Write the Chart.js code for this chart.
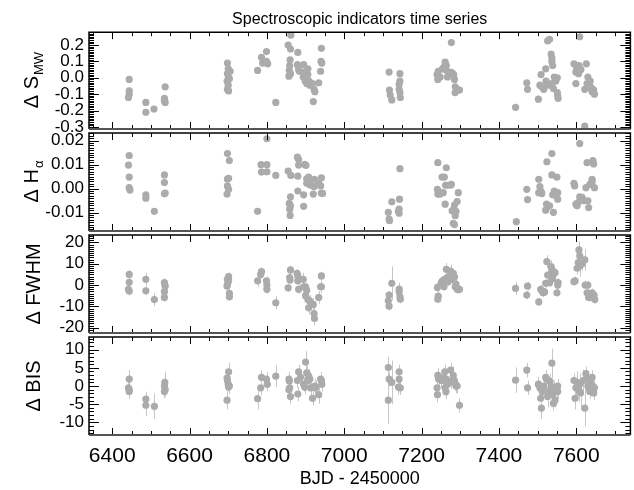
<!DOCTYPE html>
<html>
<head>
<meta charset="utf-8">
<script src="https://cdn.jsdelivr.net/npm/chart.js@4/dist/chart.umd.min.js"></script>
<style>
  body { margin: 0; background: #fff; }
  #wrap { position: relative; width: 634px; height: 490px; }
  #wrap canvas { position: absolute; left: 0; top: 0; }
</style>
</head>
<body>
<div id="wrap">
  <canvas id="pSmw" width="634" height="490"></canvas>
  <canvas id="pHa" width="634" height="490"></canvas>
  <canvas id="pFwhm" width="634" height="490"></canvas>
  <canvas id="pBis" width="634" height="490"></canvas>
</div>
<script>
// ---- data (BJD - 2450000, deltas) ----
const xTicks = [6400, 6600, 6800, 7000, 7200, 7400, 7600];

const smwTicks = [-0.3, -0.2, -0.1, 0.0, 0.1, 0.2];
const smwT = [6444, 6444, 6444, 6442, 6487, 6487, 6508, 6537, 6535, 6535, 6537,
  6698, 6700, 6698, 6701, 6697, 6700, 6698, 6701, 6705, 6703,
  6776, 6786, 6789, 6799, 6799, 6802, 6823,
  6855, 6862, 6861, 6860, 6859, 6858, 6857, 6861,
  6880, 6879, 6882, 6884,
  6895, 6897, 6894, 6899, 6903, 6906, 6906, 6901, 6909, 6911,
  6922, 6924, 6920, 6918, 6934, 6941, 6940, 6942, 6939,
  7116, 7117, 7119, 7123, 7142, 7144, 7144, 7142, 7144, 7145,
  7240, 7242, 7243, 7248, 7254, 7258, 7261, 7264, 7262, 7267, 7269, 7275, 7277, 7279, 7283, 7285, 7287, 7287, 7292, 7298,
  7443, 7472, 7474, 7502, 7506, 7509, 7511, 7516,
  7521, 7522, 7526, 7528, 7531, 7535, 7537, 7537, 7539, 7537, 7541, 7543, 7547, 7551, 7552, 7553, 7551,
  7594, 7599, 7599, 7601, 7603, 7606, 7609, 7607, 7612, 7622, 7622, 7626, 7628, 7630, 7632, 7634, 7636, 7638, 7641, 7643, 7645, 7647];
const smwV = [-0.01, -0.08, -0.10, -0.12, -0.15, -0.21, -0.19, -0.055, -0.125, -0.14, -0.15,
  0.09, 0.055, 0.025, 0.0, -0.02, -0.045, -0.07, -0.08, 0.04, -0.005,
  0.045, 0.125, 0.09, 0.10, 0.16, 0.085, -0.15,
  0.20, 0.26, 0.175, 0.11, 0.075, 0.045, 0.01, 0.025,
  0.155, 0.08, 0.05, 0.04,
  0.08, 0.035, 0.005, -0.02, -0.035, 0.055, 0.02, 0.005, -0.02, -0.045,
  -0.07, -0.085, -0.145, -0.035, -0.03, 0.18, 0.10, 0.09, 0.04,
  0.035, -0.075, -0.105, -0.135, -0.04, 0.025, -0.02, -0.07, -0.09, -0.12,
  0.02, -0.01, 0.04, 0.005, 0.055, 0.065, 0.095, 0.075, 0.05, 0.005, 0.025, 0.035, 0.215, 0.03, 0.02, -0.01, -0.055, -0.09, -0.07, -0.075,
  -0.18, -0.03, -0.07, -0.13, -0.045, 0.02, -0.055, -0.07,
  0.055, -0.02, 0.225, -0.045, 0.235, 0.145, 0.12, 0.10, 0.075, -0.035, -0.065, 0.005, -0.02, -0.09, -0.11, -0.125, 0.0,
  0.085, 0.035, -0.035, 0.055, 0.04, 0.025, 0.25, 0.075, 0.05, -0.07, -0.295, 0.085, -0.035, 0.005, -0.055, -0.045, -0.02, -0.06, -0.085, -0.07, -0.075, -0.10];
const smwErr = 0.006;

const haTicks = [-0.01, 0.00, 0.01, 0.02];
const haT = [6444, 6442, 6444, 6444, 6446, 6487, 6487, 6509, 6535, 6535, 6537, 6535,
  6698, 6703, 6698, 6701, 6698, 6701, 6697, 6776, 6785, 6786, 6800, 6800, 6800, 6823,
  6855, 6860, 6858, 6859, 6861, 6861, 6862, 6879, 6882, 6882, 6880, 6880,
  6895, 6895, 6898, 6901, 6903, 6906, 6908, 6910, 6903, 6913, 6922, 6920, 6923,
  6934, 6941, 6939, 6941, 6944,
  7114, 7116, 7117, 7123, 7142, 7143, 7142, 7144, 7140,
  7242, 7241, 7242, 7246, 7248, 7253, 7256, 7259, 7261, 7262, 7264, 7267,
  7275, 7277, 7279, 7282, 7285, 7285, 7287, 7289, 7295, 7292,
  7445, 7472, 7474, 7503, 7506, 7503, 7509, 7511,
  7521, 7523, 7524, 7526, 7531, 7537, 7537, 7539, 7541, 7543, 7550, 7552, 7552,
  7594, 7596, 7599, 7602, 7605, 7609, 7609, 7615, 7620, 7625, 7628, 7630, 7632, 7635, 7638, 7641, 7643, 7645, 7641, 7647];
const haV = [0.0138, 0.0098, 0.0048, 0.0004, -0.0006, -0.0026, -0.004, -0.0095, 0.0057, 0.0025, -0.0019, -0.0022,
  0.0146, 0.0117, 0.004, 0.0043, 0.0011, -0.0003, -0.0023, -0.0095, 0.010, 0.0069, 0.010, 0.0208, 0.007, 0.0055,
  0.0073, -0.0112, -0.0062, -0.0086, -0.0072, -0.0034, 0.0055, 0.0131, 0.0121, 0.0098, 0.0052, -0.001,
  -0.0026, -0.0074, 0.0101, 0.0097, 0.0022, 0.0032, 0.0048, 0.0018, 0.0041, 0.0014, 0.0008, -0.0023, 0.0039,
  0.0022, 0.0045, 0.0011, -0.0019, -0.002,
  -0.0099, -0.0127, -0.0134, -0.0055, -0.0086, -0.0044, -0.0103, 0.0083, -0.0095,
  0.0108, -0.0003, -0.0023, -0.0017, -0.0023, 0.0048, -0.0017, 0.0048, -0.0065, 0.0014, 0.0087, 0.0014,
  0.0014, 0.0018, -0.0092, -0.0145, -0.015, -0.0069, -0.0113, -0.0095, -0.0017, -0.0054,
  -0.0138, -0.0003, -0.0046, 0.0039, 0.0008, -0.0017, -0.0012, -0.0021,
  -0.009, -0.0065, 0.0112, -0.0076, -0.0072, 0.0146, 0.0057, -0.0026, -0.0099, -0.001, 0.0048, -0.0017, -0.0044,
  0.0022, 0.0011, -0.0065, -0.0072, -0.0058, 0.0188, -0.0034, -0.0037, -0.0051, 0.0004, 0.0108, -0.0051, -0.0079, 0.0018, 0.0018, 0.0029, 0.0117, 0.0103, 0.0039, 0.0004];
const haErr = 0.0004;

const fwhmTicks = [-20, -10, 0, 10, 20];
const fwhmT = [6444, 6444, 6442, 6444, 6487, 6487, 6509, 6535, 6537, 6535, 6535,
  6698, 6700, 6698, 6701, 6697, 6703, 6703, 6701, 6776, 6786, 6784, 6799, 6800, 6800, 6823,
  6855, 6859, 6861, 6860, 6878, 6880, 6880, 6882,
  6894, 6895, 6900, 6903, 6900, 6906, 6908, 6911, 6915, 6920, 6922, 6923,
  6934, 6939, 6941, 6941,
  7114, 7116, 7116, 7123, 7142, 7144, 7145, 7142,
  7241, 7243, 7242, 7251, 7254, 7258, 7260, 7264, 7267, 7269, 7275, 7277, 7279, 7282, 7285, 7287, 7289, 7292, 7298,
  7443, 7472, 7474, 7503, 7508, 7511, 7514, 7518, 7521, 7524, 7526, 7531, 7535, 7537, 7539, 7542, 7545, 7550, 7552, 7553,
  7594, 7597, 7602, 7605, 7607, 7609, 7609, 7615, 7622, 7623, 7628, 7630, 7632, 7636, 7641, 7643, 7646, 7648];
const fwhmV = [5.0, 1.3, -2.0, -2.8, 2.7, -2.7, -6.8, 1.1, -0.5, -3.1, -5.8,
  2.7, 1.6, 0.3, 2.3, -0.5, -3.9, -5.5, 4.0, 2.0, 6.3, 5.0, 2.0, 0.0, -2.0, -8.3,
  -1.3, 3.5, 7.1, 2.4, 5.5, 4.3, 2.0, -2.0,
  2.7, -0.8, -0.8, -2.4, -5.0, -6.8, -10.7, -7.6, -8.7, -9.1, -13.4, -15.7,
  -5.8, -0.8, 4.3, -0.8,
  -7.4, -9.9, -4.7, 0.8, -3.1, -5.5, -6.6, -1.9,
  -1.1, -5.2, -6.6, 1.1, 2.0, -0.8, 2.7, 7.4, 3.6, 1.6, 6.6, 4.3, 2.8, 5.5, 3.8, -0.8, 0.5, -2.0, -2.0,
  -1.6, -4.7, -0.5, -7.9, -2.0, -2.7, -3.6, -3.2, 0.8, 11.0, 4.7, 1.1, 8.7, 7.1, 3.1, 5.5, 5.8, -3.6, 0.0, 1.1,
  1.6, 2.0, 7.9, 10.6, 16.5, 13.7, 9.0, 9.9, 11.8, 0.0, -3.6, 0.0, -5.8, -4.7, -3.6, -5.8, -4.7, -6.8];
const fwhmE = [2, 2, 2, 2, 3, 2, 3, 2, 2, 2, 2,
  2, 2, 2, 2, 2, 2, 2, 2, 3, 2, 2, 2, 2, 2, 3,
  2, 2, 2, 2, 2, 2, 2, 2,
  3, 2, 2, 2, 3, 3, 3, 3, 3, 3, 3, 3,
  3, 3, 2, 2,
  3, 2, 2, 8, 3, 2, 2, 3,
  2, 3, 2, 2, 2, 2, 2, 3, 2, 2, 3, 2, 2, 2, 2, 2, 2, 2, 2,
  3, 2, 2, 2, 2, 2, 2, 2, 2, 3, 3, 2, 3, 2, 2, 3, 2, 2, 2, 2,
  2, 2, 3, 4, 4, 4, 5, 3, 5, 2, 2, 2, 2, 2, 2, 2, 2, 2];

const bisTicks = [-10, -5, 0, 5, 10];
const bisT = [6444, 6442, 6444, 6444, 6487, 6487, 6509, 6536, 6535, 6537, 6535,
  6697, 6701, 6698, 6700, 6703, 6697, 6701, 6776, 6784, 6786, 6799, 6801, 6823,
  6857, 6858, 6859, 6857, 6861, 6879, 6880, 6882, 6887,
  6895, 6898, 6900, 6903, 6906, 6908, 6911, 6913, 6918, 6924, 6926, 6934, 6941, 6942, 6939,
  7114, 7114, 7116, 7123, 7142, 7142, 7140, 7145,
  7240, 7241, 7242, 7244, 7251, 7256, 7260, 7261, 7263, 7264, 7267, 7275, 7277, 7282, 7284, 7287, 7289, 7292, 7298,
  7443, 7472, 7474, 7502, 7506, 7508, 7510, 7512, 7516, 7521, 7523, 7526, 7528, 7532, 7535, 7537, 7539, 7541, 7543, 7545, 7549, 7552, 7552,
  7594, 7597, 7599, 7602, 7605, 7607, 7609, 7611, 7618, 7622, 7625, 7628, 7630, 7632, 7635, 7638, 7641, 7643, 7645, 7647];
const bisV = [1.9, -0.5, -1.0, -1.5, -3.6, -5.3, -5.6, 1.0, 0.0, -1.0, -1.5,
  2.2, 3.9, 1.5, 0.5, 0.0, -3.9, -0.3, -3.5, -0.5, 2.4, 1.9, 0.5, 2.7,
  1.9, 1.4, -0.5, -1.0, -2.9, 1.5, -2.2, 3.9, 2.4,
  0.5, -0.3, 6.6, 3.6, 1.5, 2.7, 1.9, -0.5, -3.4, 0.0, -0.5, -2.4, 1.5, 0.5, 1.9,
  5.1, -3.9, 1.9, 1.0, 3.9, 1.9, -0.3, -0.5,
  -0.5, -2.4, 2.9, 1.9, 1.5, 2.2, 3.9, -0.5, -1.6, 1.9, 0.5, 4.4, 1.3, 2.9, 1.6, 0.7, 0.0, 0.0, -5.3,
  1.6, 4.4, -0.5, 0.5, -0.5, -3.4, -6.1, -1.6, 0.0, 2.4, 1.9, -2.9, -1.5, 1.3, 0.0, 6.3, -2.4, -4.8, -0.5, -3.9, -1.5, 0.0, -1.5,
  1.5, -3.4, -0.5, 1.0, 0.0, -1.3, 0.5, -1.9, 1.5, -6.1, 3.4, 1.9, 0.0, -0.5, -1.5, 0.5, 2.4, 0.0, -1.9, -0.5];
const bisE = [2.5, 2, 2, 2, 2, 3, 3.5, 3, 2, 2, 2,
  2, 2.5, 2, 2, 2, 2.5, 2, 3, 2, 2, 2, 2, 3,
  2, 2, 2, 2, 2, 2, 2, 2, 2,
  2, 2, 3, 2, 2, 2, 2, 2, 2, 2, 2, 2.5, 2, 2, 2,
  3, 6.5, 2, 6, 2, 2, 2, 2,
  2, 2, 2, 2, 2, 2, 2, 2, 2, 2, 2, 2, 2, 2.5, 2, 2, 2, 2, 2,
  3.5, 2, 2, 2, 2, 3, 3, 2, 2, 2, 2, 3, 2, 2, 2, 4, 2, 2, 2, 2, 2, 2, 2,
  2, 3, 2, 3, 2, 3, 3, 4, 3, 5, 2, 2, 2, 2, 2, 2, 2, 2, 2, 2];

// ---- layout ----
const X_MIN = 6340, X_MAX = 7740;
const AXIS_LEFT = 89, RIGHT_PAD = 1;
const FONT = "'Liberation Sans', Arial, Helvetica, sans-serif";

// frame with inward ticks on all sides, IDL style
const framePlugin = {
  id: 'frame',
  afterDraw(chart, args, o) {
    const { ctx, chartArea: a, scales: { x, y } } = chart;
    ctx.save();
    ctx.strokeStyle = '#000';
    ctx.lineWidth = 1;
    ctx.beginPath();
    for (let v = Math.ceil(x.min / 50) * 50; v <= x.max; v += 50) {
      const px = Math.round(x.getPixelForValue(v)) + 0.5;
      const len = v % 200 === 0 ? 7 : 4;
      ctx.moveTo(px, a.top); ctx.lineTo(px, a.top + len);
      ctx.moveTo(px, a.bottom); ctx.lineTo(px, a.bottom - len);
    }
    const n0 = Math.ceil(y.min / o.minor - 1e-9), n1 = Math.floor(y.max / o.minor + 1e-9);
    for (let n = n0; n <= n1; n++) {
      const v = n * o.minor;
      const py = Math.round(y.getPixelForValue(v)) + 0.5;
      const r = v / o.major;
      const len = Math.abs(r - Math.round(r)) < 1e-6 ? 10 : 5;
      ctx.moveTo(a.left, py); ctx.lineTo(a.left + len, py);
      ctx.moveTo(a.right, py); ctx.lineTo(a.right - len, py);
    }
    ctx.stroke();
    ctx.lineWidth = 1.5;
    ctx.beginPath();
    ctx.moveTo(a.left, a.bottom); ctx.lineTo(a.left, a.top);
    ctx.lineTo(a.right, a.top); ctx.lineTo(a.right, a.bottom);
    ctx.stroke();
    ctx.strokeStyle = '#555';
    ctx.lineWidth = 2;
    ctx.beginPath();
    ctx.moveTo(a.left, a.bottom); ctx.lineTo(a.right, a.bottom);
    ctx.stroke();
    ctx.restore();
  }
};

// vertical error bars
const errPlugin = {
  id: 'errbars',
  beforeDatasetsDraw(chart, args, o) {
    const { ctx, chartArea: a, scales: { x, y } } = chart;
    const ds = chart.data.datasets[0].data;
    ctx.save();
    ctx.beginPath();
    ctx.rect(a.left, a.top, a.right - a.left, a.bottom - a.top);
    ctx.clip();
    ctx.strokeStyle = '#c6c6c6';
    ctx.lineWidth = 1;
    ctx.beginPath();
    ds.forEach((p, i) => {
      const e = Array.isArray(o.err) ? o.err[i] : o.err;
      const px = Math.round(x.getPixelForValue(p.x)) + 0.5;
      ctx.moveTo(px, y.getPixelForValue(p.y - e));
      ctx.lineTo(px, y.getPixelForValue(p.y + e));
    });
    ctx.stroke();
    ctx.restore();
  }
};

// rotated y title with optional subscript
const yTitlePlugin = {
  id: 'ytitle',
  afterDraw(chart, args, o) {
    const { ctx, chartArea: a } = chart;
    const big = '20px ' + FONT, small = '13px ' + FONT;
    ctx.save();
    ctx.font = big;
    const w1 = ctx.measureText(o.main).width;
    ctx.font = small;
    const w2 = o.sub ? ctx.measureText(o.sub).width : 0;
    ctx.translate(o.x, (a.top + a.bottom) / 2);
    ctx.rotate(-Math.PI / 2);
    ctx.fillStyle = '#000';
    ctx.textBaseline = 'alphabetic';
    const x0 = -(w1 + w2) / 2;
    ctx.font = big;
    ctx.fillText(o.main, x0, 7);
    if (o.sub) {
      ctx.font = small;
      ctx.fillText(o.sub, x0 + w1 + 1, 12);
    }
    ctx.restore();
  }
};

function makePanel(id, t, v, err, cfg) {
  const last = !!cfg.last;
  return new Chart(document.getElementById(id), {
    type: 'scatter',
    data: {
      datasets: [{
        data: t.map((tt, i) => ({ x: tt, y: v[i] })),
        backgroundColor: '#ababab',
        pointRadius: 3.6,
        pointBorderWidth: 0,
        pointHoverRadius: 3.6
      }]
    },
    options: {
      responsive: false,
      animation: false,
      devicePixelRatio: 1,
      events: [],
      layout: { padding: { top: cfg.top, bottom: last ? 0 : 490 - cfg.bottom, left: 0, right: RIGHT_PAD } },
      plugins: {
        legend: { display: false },
        tooltip: { enabled: false },
        title: cfg.title ? {
          display: true, text: cfg.title, fullSize: false, color: '#000',
          font: { family: FONT, size: 16, weight: 'normal' },
          padding: { top: 10, bottom: 3 }
        } : { display: false },
        frame: { minor: cfg.minor, major: cfg.major },
        errbars: { err: err },
        ytitle: { main: cfg.yMain, sub: cfg.ySub, x: cfg.yTitleX }
      },
      scales: {
        x: {
          type: 'linear', min: X_MIN, max: X_MAX,
          grid: { display: false, drawTicks: false },
          border: { display: false },
          afterBuildTicks: s => { s.ticks = xTicks.map(val => ({ value: val })); },
          afterFit: s => { s.height = last ? 490 - cfg.bottom : 0; },
          ticks: {
            display: last, color: '#000', padding: 9, maxRotation: 0, autoSkip: false,
            font: { family: FONT, size: 21 },
            callback: val => String(val)
          },
          title: {
            display: last, text: 'BJD - 2450000', color: '#000',
            font: { family: FONT, size: 18 },
            padding: { top: 0, bottom: 0 }
          }
        },
        y: {
          type: 'linear', min: cfg.yMin, max: cfg.yMax,
          grid: { display: false, drawTicks: false },
          border: { display: false },
          afterBuildTicks: s => { s.ticks = cfg.ticks.map(val => ({ value: val })); },
          afterFit: s => { s.width = AXIS_LEFT; },
          ticks: {
            color: '#000', padding: 5, autoSkip: false,
            font: { family: FONT, size: 17 },
            callback: val => val.toFixed(cfg.dec)
          }
        }
      }
    },
    plugins: [errPlugin, framePlugin, yTitlePlugin]
  });
}

makePanel('pSmw', smwT, smwV, smwErr, {
  title: 'Spectroscopic indicators time series',
  top: 0, bottom: 129, yMin: -0.312, yMax: 0.278, ticks: smwTicks, dec: 1,
  minor: 0.01, major: 0.1, yMain: '\u0394 S', ySub: 'MW', yTitleX: 31
});
makePanel('pHa', haT, haV, haErr, {
  top: 133, bottom: 231, yMin: -0.0177, yMax: 0.0232, ticks: haTicks, dec: 2,
  minor: 0.001, major: 0.01, yMain: '\u0394 H', ySub: '\u03b1', yTitleX: 31
});
makePanel('pFwhm', fwhmT, fwhmV, fwhmE, {
  top: 235, bottom: 333, yMin: -22.5, yMax: 23.5, ticks: fwhmTicks, dec: 0,
  minor: 1, major: 10, yMain: '\u0394 FWHM', ySub: '', yTitleX: 33
});
makePanel('pBis', bisT, bisV, bisE, {
  top: 337, bottom: 435, yMin: -13.5, yMax: 13.5, ticks: bisTicks, dec: 0,
  minor: 1, major: 5, yMain: '\u0394 BIS', ySub: '', yTitleX: 33, last: true
});
</script>
</body>
</html>
